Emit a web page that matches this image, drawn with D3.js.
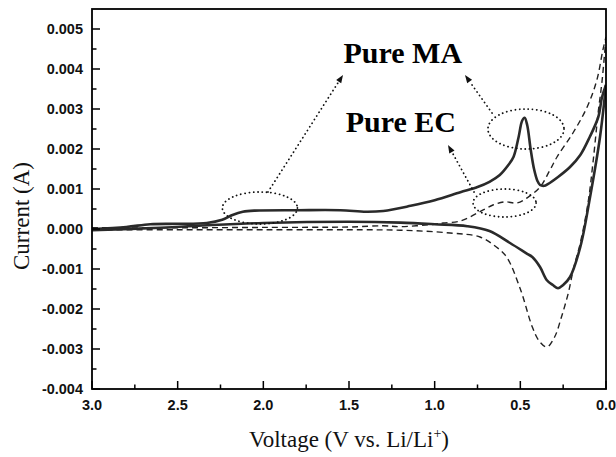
<!DOCTYPE html>
<html>
<head>
<meta charset="utf-8">
<script src="https://cdn.jsdelivr.net/npm/d3@7"></script>
<style>
  body { margin: 0; background: #fff; }
  svg { display: block; }
</style>
</head>
<body>
<div id="chart"></div>
<script>
// voltage (V) and current (A)
// Pure MA, solid line: upper branch 3.0 -> 0.0, then lower branch 0.0 -> 3.0
let maUpV = [3.0, 2.8, 2.66, 2.5, 2.33, 2.24, 2.18, 2.12, 2.05, 1.8, 1.55, 1.4, 1.3, 1.14, 1.0, 0.85, 0.75, 0.68, 0.62, 0.57, 0.54, 0.51, 0.49, 0.475, 0.46, 0.44, 0.42, 0.40, 0.385, 0.36, 0.34, 0.28, 0.21, 0.15, 0.095, 0.045, 0.023, 0.0];
let maUpI = [0.0, 0.00005, 0.00012, 0.00013, 0.00015, 0.00023, 0.00035, 0.00043, 0.00046, 0.00047, 0.00047, 0.00043, 0.00045, 0.00058, 0.00072, 0.00092, 0.00105, 0.00118, 0.00135, 0.0016, 0.0018, 0.0023, 0.0027, 0.00278, 0.0026, 0.002, 0.0015, 0.0012, 0.0011, 0.00108, 0.00112, 0.0013, 0.00155, 0.00185, 0.0023, 0.0028, 0.0033, 0.0036];
let maLoV = [0.0, 0.035, 0.093, 0.15, 0.21, 0.25, 0.28, 0.31, 0.345, 0.385, 0.43, 0.46, 0.56, 0.68, 0.81, 1.0, 1.2, 1.5, 2.0, 2.3, 2.6, 3.0];
let maLoI = [0.0036, 0.0023, 0.0008, -0.00045, -0.0012, -0.0014, -0.00148, -0.0014, -0.00128, -0.00095, -0.0007, -0.00062, -0.00035, -0.00005, 0.00007, 0.00012, 0.00016, 0.00018, 0.00015, 0.0001, 0.00003, -0.00003];

// Pure EC, dashed line
let ecUpV = [3.0, 2.5, 2.0, 1.5, 1.3, 1.2, 1.0, 0.95, 0.85, 0.75, 0.66, 0.59, 0.52, 0.46, 0.385, 0.33, 0.286, 0.193, 0.11, 0.053, 0.018, 0.0];
let ecUpI = [0.00003, 0.00003, 0.00004, 0.00005, 0.00008, 0.00006, 0.00012, 0.00015, 0.0002, 0.0004, 0.0006, 0.00068, 0.00065, 0.00078, 0.00105, 0.00145, 0.0018, 0.0024, 0.00305, 0.00373, 0.00448, 0.0048];
let ecLoV = [0.0, 0.023, 0.046, 0.075, 0.105, 0.15, 0.19, 0.22, 0.26, 0.3, 0.345, 0.39, 0.43, 0.5, 0.58, 0.64, 0.735, 0.91, 1.2, 1.5, 2.0, 2.5, 3.0];
let ecLoI = [0.0048, 0.0037, 0.0029, 0.0017, 0.00065, -0.00035, -0.001, -0.0016, -0.0022, -0.0027, -0.00295, -0.0028, -0.00245, -0.0015, -0.0007, -0.00045, -0.0002, -0.0001, -0.00003, -0.00002, -0.00002, -0.00002, -0.00002];

let xTicks = [3.0, 2.5, 2.0, 1.5, 1.0, 0.5, 0.0];
let yTicks = [-0.004, -0.003, -0.002, -0.001, 0.000, 0.001, 0.002, 0.003, 0.004, 0.005];

// annotations in data units: [V, I, rV, rI]
let ellipses = [[2.02, 0.000525, 0.219, 0.0004], [0.467, 0.0025, 0.222, 0.0005], [0.592, 0.00065, 0.184, 0.00035]];
// arrows: [fromV, fromI, toV, toI]
let arrows = [[1.973, 0.000925, 1.535, 0.00385], [0.665, 0.0029, 0.823, 0.00385], [0.77, 0.000925, 0.922, 0.0021]];
let labels = [["Pure MA", 1.186, 0.00415], ["Pure EC", 1.197, 0.002425]];

let w = 616, h = 457;
let m = {top: 9, right: 10, bottom: 68, left: 92};

let svg = d3.select("#chart").append("svg")
    .attr("width", w)
    .attr("height", h);

let x = d3.scaleLinear().domain([3.0, 0.0]).range([m.left, w - m.right]);
let y = d3.scaleLinear().domain([-0.004, 0.0055]).range([h - m.bottom, m.top]);

svg.append("defs").append("clipPath").attr("id", "clip")
  .append("rect")
    .attr("x", m.left).attr("y", m.top)
    .attr("width", x.range()[1] - m.left)
    .attr("height", y.range()[0] - m.top);

let zip = (vs, is) => vs.map((v, i) => [v, is[i]]);

let line = d3.line()
    .x(d => x(d[0]))
    .y(d => y(d[1]))
    .curve(d3.curveCatmullRom.alpha(0.5));

let plot = svg.append("g").attr("clip-path", "url(#clip)");

// dashed EC
[zip(ecUpV, ecUpI), zip(ecLoV, ecLoI)].forEach(d => {
  plot.append("path")
      .datum(d)
      .attr("d", line)
      .attr("fill", "none")
      .attr("stroke", "#222")
      .attr("stroke-width", 1.4)
      .attr("stroke-dasharray", "6,4");
});

// solid MA
[zip(maUpV, maUpI), zip(maLoV, maLoI)].forEach(d => {
  plot.append("path")
      .datum(d)
      .attr("d", line)
      .attr("fill", "none")
      .attr("stroke", "#2a2a2a")
      .attr("stroke-width", 2.6)
      .attr("stroke-linejoin", "round");
});

// dotted ellipses
svg.selectAll(".ell")
  .data(ellipses)
  .enter().append("ellipse")
    .attr("class", "ell")
    .attr("cx", d => x(d[0]))
    .attr("cy", d => y(d[1]))
    .attr("rx", d => Math.abs(x(d[0] + d[2]) - x(d[0])))
    .attr("ry", d => Math.abs(y(d[1] + d[3]) - y(d[1])))
    .attr("fill", "none")
    .attr("stroke", "#111")
    .attr("stroke-width", 1.8)
    .attr("stroke-linecap", "round")
    .attr("stroke-dasharray", "0.1,4.2");

// dotted arrows with small heads
arrows.forEach(a => {
  let x1 = x(a[0]), y1 = y(a[1]), x2 = x(a[2]), y2 = y(a[3]);
  let ang = Math.atan2(y2 - y1, x2 - x1);
  let len = 8, wid = 3;
  let bx = x2 - len * Math.cos(ang), by = y2 - len * Math.sin(ang);
  svg.append("line")
      .attr("x1", x1).attr("y1", y1)
      .attr("x2", bx).attr("y2", by)
      .attr("stroke", "#111")
      .attr("stroke-width", 1.8)
      .attr("stroke-linecap", "round")
      .attr("stroke-dasharray", "0.1,4.2");
  let px = -Math.sin(ang) * wid, py = Math.cos(ang) * wid;
  svg.append("path")
      .attr("d", `M${x2},${y2}L${bx + px},${by + py}L${bx - px},${by - py}Z`)
      .attr("fill", "#111");
});

svg.selectAll(".lbl")
  .data(labels)
  .enter().append("text")
    .attr("class", "lbl")
    .attr("x", d => x(d[1]))
    .attr("y", d => y(d[2]))
    .attr("text-anchor", "middle")
    .attr("font-family", "'Liberation Serif', 'Times New Roman', serif")
    .attr("font-weight", "bold")
    .attr("font-size", 30)
    .text(d => d[0]);

// axes, ticks pointing inward
let xMinor = d3.range(0.25, 3.0, 0.5);
let yMinor = d3.range(-0.0035, 0.0055, 0.001);

let ax = svg.append("g");
xTicks.forEach(t => {
  ax.append("line").attr("x1", x(t)).attr("x2", x(t))
      .attr("y1", y.range()[0]).attr("y2", y.range()[0] - 8)
      .attr("stroke", "#000").attr("stroke-width", 1.5);
  ax.append("text")
      .attr("x", x(t)).attr("y", y.range()[0] + 21)
      .attr("text-anchor", "middle")
      .attr("font-family", "'Liberation Sans', Arial, sans-serif")
      .attr("font-weight", "bold")
      .attr("font-size", 14.5)
      .attr("fill", "#111")
      .text(d3.format(".1f")(t));
});
xMinor.forEach(t => {
  ax.append("line").attr("x1", x(t)).attr("x2", x(t))
      .attr("y1", y.range()[0]).attr("y2", y.range()[0] - 4.5)
      .attr("stroke", "#000").attr("stroke-width", 1.5);
});
yTicks.forEach(t => {
  ax.append("line").attr("x1", m.left).attr("x2", m.left + 8)
      .attr("y1", y(t)).attr("y2", y(t))
      .attr("stroke", "#000").attr("stroke-width", 1.5);
  ax.append("text")
      .attr("x", m.left - 9).attr("y", y(t) + 5)
      .attr("text-anchor", "end")
      .attr("font-family", "'Liberation Sans', Arial, sans-serif")
      .attr("font-weight", "bold")
      .attr("font-size", 14.5)
      .attr("fill", "#111")
      .text(d3.format(".3f")(t).replace("−", "-"));
});
yMinor.forEach(t => {
  ax.append("line").attr("x1", m.left).attr("x2", m.left + 4.5)
      .attr("y1", y(t)).attr("y2", y(t))
      .attr("stroke", "#000").attr("stroke-width", 1.5);
});

// frame
svg.append("rect")
    .attr("x", m.left).attr("y", m.top)
    .attr("width", x.range()[1] - m.left)
    .attr("height", y.range()[0] - m.top)
    .attr("fill", "none")
    .attr("stroke", "#000")
    .attr("stroke-width", 1.8);

// axis titles
svg.append("text")
    .attr("x", (m.left + x.range()[1]) / 2)
    .attr("y", 447)
    .attr("text-anchor", "middle")
    .attr("font-family", "'Liberation Serif', 'Times New Roman', serif")
    .attr("font-size", 23)
    .attr("fill", "#111")
    .text("Voltage (V vs. Li/Li")
  .append("tspan")
    .attr("dy", -9)
    .attr("font-size", 14)
    .text("+")
  .select(function() { return this.parentNode; })
  .append("tspan")
    .attr("dy", 9)
    .text(")");

svg.append("text")
    .attr("transform", "translate(29,216) rotate(-90)")
    .attr("text-anchor", "middle")
    .attr("font-family", "'Liberation Serif', 'Times New Roman', serif")
    .attr("font-size", 23)
    .attr("fill", "#111")
    .text("Current (A)");
</script>
</body>
</html>
